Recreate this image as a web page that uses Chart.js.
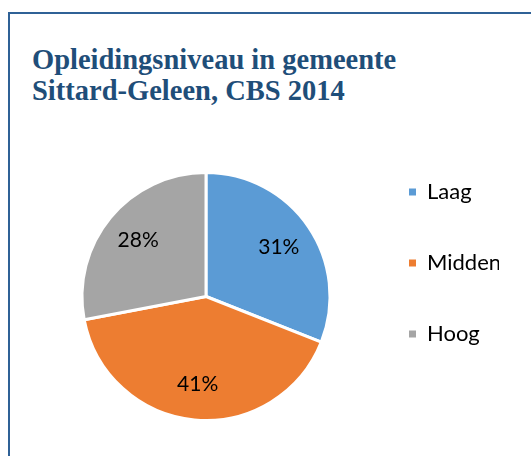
<!DOCTYPE html>
<html>
<head>
<meta charset="utf-8">
<script src="https://cdn.jsdelivr.net/npm/chart.js@4/dist/chart.umd.min.js"></script>
<style>
  html, body { margin: 0; padding: 0; background: #fff; width: 531px; height: 456px; overflow: hidden; }
  #frame { position: absolute; left: 8px; top: 12px; width: 600px; height: 500px;
           border-left: 2px solid #2F6196; border-top: 2px solid #2F6196; }
  #title { position: absolute; left: 32px; top: 45px; margin: 0;
           font-family: "Liberation Serif", serif; font-weight: bold; font-size: 28.5px;
           line-height: 30.7px; color: #1F4E79; white-space: nowrap; }
  #wrap { position: absolute; left: 0; top: 0; width: 531px; height: 456px; }
</style>
</head>
<body>
<div id="frame"></div>
<div id="title">Opleidingsniveau in gemeente<br>Sittard-Geleen, CBS 2014</div>
<div id="wrap"><canvas id="c" width="531" height="456"></canvas></div>
<script>
const categories = ["Laag", "Midden", "Hoog"];
const values = [31, 41, 28];
const colors = ["#5B9BD5", "#ED7D31", "#A5A5A5"];

const pctLabels = {
  id: "pctLabels",
  afterDatasetsDraw(chart) {
    const ctx = chart.ctx;
    const meta = chart.getDatasetMeta(0);
    const data = chart.data.datasets[0].data;
    const total = data.reduce((a, b) => a + b, 0);
    ctx.save();
    ctx.font = "21px Lato";
    ctx.fillStyle = "#000";
    ctx.textAlign = "center";
    ctx.textBaseline = "middle";
    meta.data.forEach((arc, i) => {
      const p = arc.getProps(["x", "y", "startAngle", "endAngle", "outerRadius"], true);
      const mid = (p.startAngle + p.endAngle) / 2;
      const r = p.outerRadius * 0.71;
      ctx.fillText(Math.round(data[i] / total * 100) + "%", p.x + Math.cos(mid) * r, p.y + Math.sin(mid) * r);
    });
    ctx.restore();
  }
};

new Chart(document.getElementById("c"), {
  type: "pie",
  data: {
    labels: categories,
    datasets: [{
      data: values,
      backgroundColor: colors,
      borderColor: "#ffffff",
      borderWidth: 3
    }]
  },
  options: {
    responsive: false,
    animation: false,
    layout: { padding: { left: 13, right: 32, top: 171, bottom: 34 } },
    plugins: {
      title: { display: false },
      tooltip: { enabled: false },
      legend: {
        display: true,
        position: "right",
        align: "start",
        maxWidth: 100,
        labels: {
          boxWidth: 7,
          boxHeight: 7,
          padding: 10,
          color: "#000",
          font: { family: "Lato", size: 22, lineHeight: "61px" },
          generateLabels(chart) {
            const ds = chart.data.datasets[0];
            return chart.data.labels.map((l, i) => ({
              text: [l],
              fillStyle: ds.backgroundColor[i],
              strokeStyle: ds.backgroundColor[i],
              lineWidth: 0,
              hidden: false,
              index: i
            }));
          }
        }
      }
    }
  },
  plugins: [pctLabels]
});
</script>
</body>
</html>
